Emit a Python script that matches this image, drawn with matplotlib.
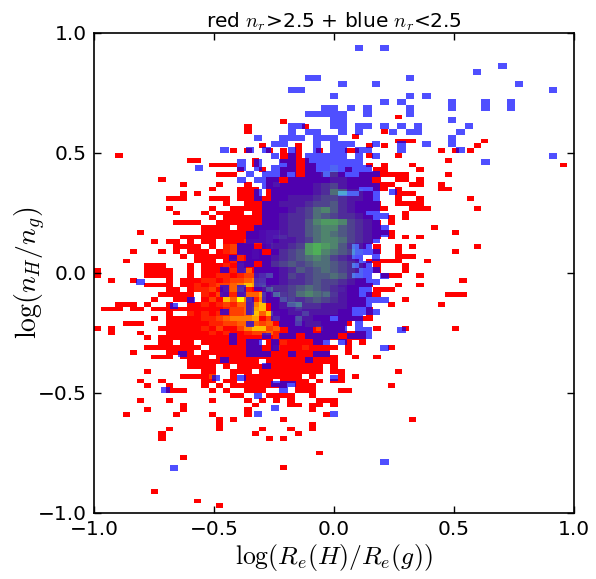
import numpy as np
import matplotlib
matplotlib.use('Agg')
import matplotlib.pyplot as plt

plt.rcParams['mathtext.fontset'] = 'cm'

# number of bins in each histogram
RED_NX, RED_NY = 67, 100
BLUE_NX, BLUE_NY = 57, 80

# (row from the top, first column, counts, blank = empty bin)
red_cells = [
    (17, 42, "1"), (18, 26, "1"), (19, 21, "1"), (19, 29, "1"), (20, 21, "1"), (20, 40, "1"),
    (21, 36, "1"), (22, 42, "1"), (22, 43, "11"), (22, 54, "1"),
    (23, 23, "1"), (23, 28, "1"), (23, 38, "1"), (23, 40, "1"), (23, 53, "1"),
    (24, 19, "1"), (24, 21, "1"), (24, 24, "1"), (24, 26, "1"), (24, 28, "1"), (24, 31, "1"), (24, 35, "11"),
    (24, 48, "1"), (24, 50, "1"), (24, 52, "1"),
    (25, 3, "1"), (25, 26, "111"), (25, 38, "1"), (25, 42, "1"),
    (26, 13, "11"), (26, 22, "1"), (26, 26, "1111"), (26, 49, "1"),
    (27, 16, "111"), (27, 19, "1"), (27, 22, "1"), (27, 27, "1111"), (27, 38, "1"), (27, 40, "1"), (27, 44, "1"), (27, 65, "1"),
    (28, 20, "1"), (28, 23, "1"), (28, 26, "11111"), (28, 35, "1"), (28, 39, "11"), (28, 45, "1"),
    (29, 17, "11"), (29, 19, "1"), (29, 26, "1 1111"), (29, 33, "11"), (29, 37, "11"), (29, 39, "11111"), (29, 49, "1"),
    (30, 9, "1"), (30, 24, "111111111111111"), (30, 39, "1"), (30, 42, "11"), (30, 45, "1"),
    (31, 12, "1"), (31, 17, "1"), (31, 21, "1"), (31, 24, "1311111111111111"), (31, 40, "11"), (31, 44, "11"), (31, 48, "1"),
    (32, 16, "1"), (32, 20, "111"), (32, 24, "1111111111111"), (32, 39, "11"), (32, 42, "1"), (32, 48, "11"),
    (33, 12, "1"), (33, 14, "1"), (33, 20, "111"), (33, 24, "1111111111"), (33, 37, "11"), (33, 42, "111"),
    (34, 10, "111"), (34, 16, "111"), (34, 20, "1111"), (34, 24, "111111111111"), (34, 36, "111"), (34, 42, "1"), (34, 45, "1"), (34, 52, "1"),
    (35, 18, "1"), (35, 21, "111"), (35, 24, "111111111111"), (35, 36, "1111"), (35, 42, "1111"),
    (36, 10, "1"), (36, 16, "1"), (36, 19, "11"), (36, 21, "11111111111111111111"), (36, 44, "111"), (36, 53, "1"),
    (37, 11, "1"), (37, 15, "1"), (37, 17, "1111"), (37, 22, "1"), (37, 23, "111111111111111"), (37, 43, "1"),
    (38, 16, "1"), (38, 18, "11111"), (38, 23, "1111111111111111"), (38, 41, "1"), (38, 43, "1"),
    (39, 11, "1111"), (39, 17, "111111"), (39, 23, "11111111111111111"), (39, 41, "1"),
    (40, 15, "11"), (40, 17, "11"), (40, 20, "111"), (40, 23, "11111111111111111"), (40, 47, "1"),
    (41, 6, "1"), (41, 15, "11111111"), (41, 23, "2331111111111111111"), (41, 50, "1"),
    (42, 12, "1111111"), (42, 19, "1111"), (42, 23, "23431111111111111"), (42, 41, "1"), (42, 43, "1"), (42, 45, "1"),
    (43, 8, "1"), (43, 10, "11"), (43, 13, "1"), (43, 15, "11"), (43, 18, "11122"), (43, 23, "2311111111111111"), (43, 38, "1"),
    (44, 11, "1111"), (44, 16, "1"), (44, 18, "23111"), (44, 23, "121111111111"), (44, 34, "11"), (44, 37, "1"), (44, 39, "1"), (44, 42, "1"), (44, 44, "1"), (44, 53, "1"),
    (45, 5, "1"), (45, 9, "1"), (45, 11, "1"), (45, 13, "11"), (45, 15, "1"), (45, 17, "1231121"), (45, 24, "1111111111"), (45, 34, "11"), (45, 39, "1"), (45, 42, "1"), (45, 50, "1"),
    (46, 12, "1"), (46, 14, "11111"), (46, 19, "12121111111111111"), (46, 42, "111"),
    (47, 4, "1"), (47, 14, "111"), (47, 18, "1221111111111111111"), (47, 38, "11111"), (47, 46, "1"),
    (48, 7, "111"), (48, 13, "1"), (48, 15, "1112131"), (48, 22, "111111111111"), (48, 34, "11"), (48, 37, "1"), (48, 39, "1"), (48, 43, "1"),
    (49, 0, "1"), (49, 7, "1111"), (49, 13, "1"), (49, 15, "11112341111111111111"), (49, 35, "11"), (49, 39, "1"), (49, 43, "1"),
    (50, 0, "1"), (50, 7, "1111"), (50, 13, "1"), (50, 15, "1122123358"), (50, 25, "11111111111"), (50, 40, "111"), (50, 45, "1"),
    (51, 2, "1"), (51, 5, "1"), (51, 10, "1"), (51, 12, "111221233456"), (51, 24, "111111111111"), (51, 36, "11"), (51, 51, "1"),
    (52, 7, "111"), (52, 10, "1"), (52, 12, "1121233457"), (52, 22, "671111111111111"), (52, 37, "11"), (52, 42, "1"), (52, 45, "1"),
    (53, 10, "11"), (53, 13, "1223134621"), (53, 23, "1711111111121"), (53, 36, "1"), (53, 39, "111"),
    (54, 9, "11111"), (54, 15, "2132234"), (54, 22, "46"), (54, 24, "1921111132111"), (54, 38, "11"), (54, 49, "111"),
    (55, 8, "1"), (55, 11, "111"), (55, 15, "1317495"), (55, 22, "25"), (55, 24, "1173111111"), (55, 34, "1111"), (55, 43, "1"),
    (56, 3, "111"), (56, 7, "1"), (56, 10, "1"), (56, 13, "1121232445"), (56, 23, "7"), (56, 24, "111"), (56, 27, "89"), (56, 29, "11111111"), (56, 37, "1"), (56, 41, "1"), (56, 48, "1"),
    (57, 1, "111"), (57, 5, "11"), (57, 8, "11"), (57, 10, "111"), (57, 13, "1111123346"), (57, 23, "7"), (57, 24, "1111"), (57, 28, "3"), (57, 29, "1111111"), (57, 38, "1"),
    (58, 10, "1"), (58, 13, "2121223347"), (58, 23, "4"), (58, 24, "7"), (58, 25, "2111"), (58, 29, "5"), (58, 30, "111111"), (58, 38, "1"),
    (59, 8, "1"), (59, 10, "111"), (59, 13, "1122345"), (59, 20, "5561"), (59, 24, "3"), (59, 25, "5"), (59, 26, "11"), (59, 28, "7"), (59, 29, "1111"), (59, 34, "11111"),
    (60, 4, "111"), (60, 10, "111"), (60, 13, "1112233"), (60, 20, "4443"), (60, 24, "4"), (60, 25, "111"), (60, 28, "7"), (60, 29, "11111"), (60, 34, "11"),
    (61, 0, "1"), (61, 2, "1"), (61, 9, "1111"), (61, 13, "1121311"), (61, 20, "35"), (61, 22, "77"), (61, 24, "3"), (61, 25, "4"), (61, 26, "11111"), (61, 31, "3111"), (61, 39, "1"), (61, 43, "1"), (61, 50, "1"),
    (62, 2, "1"), (62, 6, "1"), (62, 10, "111"), (62, 13, "11121211"), (62, 21, "23"), (62, 23, "3"), (62, 24, "4"), (62, 25, "211111"), (62, 31, "11"), (62, 33, "11111"),
    (63, 7, "1"), (63, 9, "1111"), (63, 13, "1111111"), (63, 20, "1111"), (63, 24, "1211111111111"), (63, 37, "1"),
    (64, 9, "11"), (64, 12, "11"), (64, 15, "1111"), (64, 19, "1111"), (64, 24, "11211111"), (64, 35, "1"), (64, 37, "1"),
    (65, 7, "11111111"), (65, 16, "1111111"), (65, 23, "11211121111"), (65, 35, "1"), (65, 41, "1"),
    (66, 5, "1"), (66, 10, "1111"), (66, 15, "11111"), (66, 20, "1111"), (66, 24, "1111111"), (66, 31, "11"), (66, 35, "1"),
    (67, 8, "111"), (67, 12, "1111"), (67, 17, "1"), (67, 18, "11111111"), (67, 26, "1111111"), (67, 33, "1"), (67, 36, "1"), (67, 39, "1"),
    (68, 13, "1111111111"), (68, 24, "111111111"), (68, 33, "1"),
    (69, 13, "1111"), (69, 18, "1"), (69, 20, "1111"), (69, 24, "11111111"), (69, 33, "1"),
    (70, 7, "1"), (70, 15, "11"), (70, 19, "111"), (70, 23, "111111111"), (70, 33, "11"), (70, 42, "1"),
    (71, 12, "111"), (71, 15, "13"), (71, 19, "1"), (71, 21, "111"), (71, 24, "1111"), (71, 28, "1"), (71, 30, "1"), (71, 34, "1"), (71, 36, "1"),
    (72, 6, "1"), (72, 9, "1"), (72, 15, "11"), (72, 18, "11"), (72, 21, "1111"), (72, 26, "1"), (72, 27, "111"), (72, 31, "1"), (72, 33, "11"),
    (73, 7, "1"), (73, 10, "1"), (73, 15, "1"), (73, 17, "1"), (73, 19, "11111111"), (73, 28, "111"), (73, 41, "1"),
    (74, 10, "111"), (74, 16, "1"), (74, 18, "1"), (74, 21, "111"), (74, 28, "11"), (74, 30, "1"), (74, 34, "11"),
    (75, 19, "11"), (75, 24, "1111"), (75, 30, "1"),
    (76, 6, "1"), (76, 10, "1"), (76, 16, "1"), (76, 21, "1"), (76, 23, "1"), (76, 25, "1"), (76, 27, "1"), (76, 31, "111"),
    (77, 12, "1"), (77, 22, "1"), (77, 27, "11"), (77, 30, "11"), (77, 33, "1"),
    (78, 7, "1"), (78, 12, "1"), (78, 21, "1"), (78, 30, "1"),
    (79, 4, "1"), (79, 11, "1"), (79, 16, "1"), (79, 21, "1"), (79, 32, "1"),
    (80, 17, "1"), (80, 19, "1"), (80, 26, "1"), (80, 44, "1"),
    (81, 17, "1"), (81, 30, "1"),
    (82, 10, "1"), (82, 17, "1"), (82, 23, "1"), (82, 27, "1"), (82, 30, "1"),
    (83, 9, "1"), (83, 22, "1"), (83, 28, "1"),
    (84, 9, "1"), (84, 24, "1"), (84, 26, "1"),
    (87, 31, "1"), (88, 12, "1"), (90, 26, "1"), (95, 8, "1"), (97, 14, "1"), (98, 17, "1"),
]

blue_cells = [
    (2, 31, "1"), (2, 34, "1"), (5, 48, "1"), (6, 45, "1"), (7, 25, "11"), (7, 37, "1"),
    (8, 29, "1"), (8, 33, "1"), (8, 50, "1"), (9, 23, "11"), (9, 54, "1"),
    (10, 28, "1"), (10, 37, "1"), (10, 39, "1"),
    (11, 34, "1"), (11, 36, "1"), (11, 42, "1"), (11, 46, "1"), (11, 49, "1"),
    (12, 27, "11"), (12, 30, "1"), (12, 32, "1"), (12, 37, "1"), (12, 42, "1"), (12, 46, "1"), (12, 49, "1"),
    (13, 25, "11111"), (13, 32, "1"), (13, 37, "1"),
    (14, 28, "11"), (14, 42, "1"),
    (15, 23, "11"), (15, 28, "11"), (15, 31, "11"), (15, 34, "1"), (15, 36, "1"), (15, 38, "1"), (15, 44, "1"),
    (16, 23, "1"), (16, 25, "11"), (16, 29, "1"), (16, 31, "1"), (16, 35, "1"), (16, 37, "11"), (16, 43, "1"),
    (17, 19, "1"), (17, 22, "111"), (17, 26, "1"), (17, 27, "11"), (17, 42, "1"),
    (18, 21, "11"), (18, 26, "1"), (18, 28, "111"), (18, 33, "1"), (18, 36, "1"), (18, 39, "1"), (18, 42, "1"),
    (19, 15, "1"), (19, 18, "1"), (19, 20, "1"), (19, 23, "1"), (19, 26, "1"), (19, 28, "11"), (19, 31, "11"), (19, 36, "1"), (19, 43, "1"),
    (20, 21, "1"), (20, 23, "1"), (20, 25, "1111"), (20, 29, "1"), (20, 31, "1"), (20, 33, "1"), (20, 54, "1"),
    (21, 17, "1"), (21, 19, "1"), (21, 22, "11"), (21, 25, "1111"), (21, 29, "111"), (21, 46, "1"),
    (22, 12, "1"), (22, 17, "1"), (22, 19, "1"), (22, 21, "111"), (22, 25, "1112"), (22, 29, "1111"),
    (23, 18, "1"), (23, 20, "1111"), (23, 25, "1123"), (23, 29, "11111"),
    (24, 17, "1"), (24, 19, "111 1111122111"),
    (25, 20, "11111123421111"),
    (26, 19, "1 1111123652211 1"),
    (27, 19, "1 1122234432211"),
    (28, 20, "11222344532111"),
    (29, 20, "11123467532111"),
    (30, 20, "11233465433211"), (30, 34, "1"),
    (31, 20, "11233578874321"),
    (32, 19, "1112335677543211"),
    (33, 18, "11112335676543211"),
    (34, 18, "1111223467764321"),
    (35, 17, "11 1223489875321"),
    (36, 17, "111 1345897654211"),
    (37, 16, "1 11123456764321 1"),
    (38, 17, "11 1345456654321"),
    (39, 15, "1 1 111235456543211"),
    (40, 19, "11124345565321"), (40, 34, "1"),
    (41, 5, "1"), (41, 19, "111233454432111"),
    (42, 15, "1 1 12334565432111"),
    (43, 15, "1 1  1234676532111"),
    (44, 11, "1"), (44, 18, "1 112334543211111"),
    (45, 9, "1"), (45, 18, "1  122333222211"), (45, 30, "11"),
    (46, 15, "1"), (46, 18, "1  1122222211111"),
    (47, 21, "11122111111"),
    (48, 18, "1   11122111 1"), (48, 28, "1"),
    (49, 23, "111 111 11"), (49, 36, "1"),
    (50, 16, "1"), (50, 20, "1 11 111  111"), (50, 28, "1"),
    (51, 16, "1"), (51, 18, "11 1"), (51, 26, "11 1"), (51, 29, "1"),
    (52, 18, "11 1"), (52, 34, "1"),
    (53, 10, "1"), (53, 18, "111"), (53, 23, "1"), (53, 26, "11"),
    (54, 15, "1"), (54, 25, "1"),
    (55, 20, "1"),
    (57, 14, "1"), (57, 17, "1"), (57, 28, "1"),
    (58, 21, "11"), (58, 23, "1"),
    (59, 8, "1"), (59, 22, "1"), (60, 19, "1"), (62, 21, "1"), (63, 19, "1"), (63, 28, "1"),
    (71, 34, "1"), (72, 9, "1"),
]


def build_grid(cells, ny, nx):
    """Turn the row/column lists into a masked count grid"""
    grid = np.zeros((ny, nx))
    for row, col, text in cells:
        for k, ch in enumerate(text):
            if ch != ' ':
                grid[row, col + k] = int(ch)
    return np.ma.masked_equal(grid, 0)


def main():
    fig = plt.figure(figsize=(5.96, 5.79), dpi=100)
    ax = fig.add_axes([94 / 596, 1 - 513 / 579, 480 / 596, 480 / 579])

    red_x = np.linspace(-1, 1, RED_NX + 1)
    red_y = np.linspace(1, -1, RED_NY + 1)
    blue_x = np.linspace(-1, 1, BLUE_NX + 1)
    blue_y = np.linspace(1, -1, BLUE_NY + 1)

    ax.pcolormesh(red_x, red_y, build_grid(red_cells, RED_NY, RED_NX),
                  cmap='autumn', vmin=1, vmax=9, antialiased=False)
    ax.pcolormesh(blue_x, blue_y, build_grid(blue_cells, BLUE_NY, BLUE_NX),
                  cmap='winter', vmin=1, vmax=9, alpha=0.69, antialiased=False, linewidth=0)

    ax.set_xlim(-1, 1)
    ax.set_ylim(-1, 1)
    ax.set_xticks([-1, -0.5, 0, 0.5, 1])
    ax.set_yticks([-1, -0.5, 0, 0.5, 1])
    ax.tick_params(direction='in', top=True, right=True, length=5, width=1, labelsize=14.5, pad=5)
    for spine in ax.spines.values():
        spine.set_linewidth(1.2)

    ax.set_title(r'red $n_r$>2.5 + blue $n_r$<2.5', fontsize=14.5, pad=4)
    ax.set_xlabel(r'$\log(R_e(H)/R_e(g))$', fontsize=18.5, labelpad=2)
    ax.set_ylabel(r'$\log(n_H/n_g)$', fontsize=20, labelpad=-7)

    fig.savefig('out.png', dpi=100)


if __name__ == "__main__":
    main()
